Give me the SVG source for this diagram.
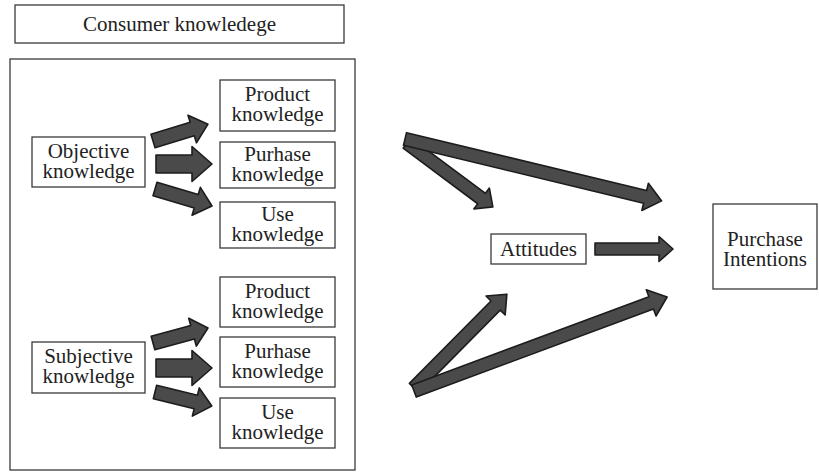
<svg xmlns="http://www.w3.org/2000/svg" width="819" height="474" viewBox="0 0 819 474">
<style>
.box{fill:#fff;stroke:#3a3a3a;stroke-width:1.3}
.t{font-family:"Liberation Serif","Times New Roman",serif;font-size:21px;fill:#222;text-anchor:middle}
.ar{fill:#4a4a4a;stroke:#1c1c1c;stroke-width:1.6;stroke-linejoin:round}
</style>
<rect width="819" height="474" fill="#fff"/>
<g id="consumer"><rect class="box" x="15" y="5" width="329" height="38"/><text class="t" x="179.5" y="31">Consumer knowledege</text></g>
<g id="container"><rect class="box" x="10" y="59" width="345" height="411"/></g>
<g id="objective"><rect class="box" x="32" y="137" width="113" height="50"/><text class="t" x="88.5" y="157.5">Objective</text><text class="t" x="88.5" y="177.5">knowledge</text></g>
<g id="product1"><rect class="box" x="220" y="80" width="115" height="51"/><text class="t" x="277.5" y="101">Product</text><text class="t" x="277.5" y="121">knowledge</text></g>
<g id="purhase1"><rect class="box" x="220" y="142" width="115" height="46"/><text class="t" x="277.5" y="160.5">Purhase</text><text class="t" x="277.5" y="180.5">knowledge</text></g>
<g id="use1"><rect class="box" x="220" y="202" width="115" height="46"/><text class="t" x="277.5" y="220.5">Use</text><text class="t" x="277.5" y="240.5">knowledge</text></g>
<g id="subjective"><rect class="box" x="32" y="342" width="113" height="51"/><text class="t" x="88.5" y="363">Subjective</text><text class="t" x="88.5" y="383">knowledge</text></g>
<g id="product2"><rect class="box" x="220" y="277" width="115" height="50"/><text class="t" x="277.5" y="297.5">Product</text><text class="t" x="277.5" y="317.5">knowledge</text></g>
<g id="purhase2"><rect class="box" x="220" y="337" width="115" height="50"/><text class="t" x="277.5" y="357.5">Purhase</text><text class="t" x="277.5" y="377.5">knowledge</text></g>
<g id="use2"><rect class="box" x="220" y="398" width="115" height="50"/><text class="t" x="277.5" y="418.5">Use</text><text class="t" x="277.5" y="438.5">knowledge</text></g>
<g id="attitudes"><rect class="box" x="491" y="234" width="95" height="30"/><text class="t" x="538.5" y="256">Attitudes</text></g>
<g id="intentions"><rect class="box" x="713" y="204" width="104" height="85"/><text class="t" x="765" y="246">Purchase</text><text class="t" x="765" y="266">Intentions</text></g>
<g id="connectors">
<polygon class="ar" transform="translate(153,141) rotate(-17)" points="0,-7 41,-7 41,-14.5 57.5,0 41,14.5 41,7 0,7"/>
<polygon class="ar" transform="translate(156,164)" points="0,-9 36,-9 36,-17.5 56,0 36,17.5 36,9 0,9"/>
<polygon class="ar" transform="translate(155,189) rotate(16.6)" points="0,-7 43,-7 43,-14.5 59.5,0 43,14.5 43,7 0,7"/>
<polygon class="ar" transform="translate(153,343) rotate(-15.3)" points="0,-7 41,-7 41,-14.5 57,0 41,14.5 41,7 0,7"/>
<polygon class="ar" transform="translate(156,368)" points="0,-9 36,-9 36,-17.5 56,0 36,17.5 36,9 0,9"/>
<polygon class="ar" transform="translate(155,392) rotate(13.8)" points="0,-7 42,-7 42,-14.5 58.5,0 42,14.5 42,7 0,7"/>
<polygon class="ar" transform="translate(407,143) rotate(36.66)" points="0,-6.5 93,-6.5 93,-13 107,0 93,13 93,6.5 0,6.5"/>
<polygon class="ar" transform="translate(405,139) rotate(13.56)" points="0,-6.5 247,-6.5 247,-14 264,0 247,14 247,6.5 0,6.5"/>
<polygon class="ar" transform="translate(414,388) rotate(-45.3)" points="0,-6.5 116,-6.5 116,-13.5 132,0 116,13.5 116,6.5 0,6.5"/>
<polygon class="ar" transform="translate(414,391) rotate(-20.38)" points="0,-6.5 253,-6.5 253,-14 270,0 253,14 253,6.5 0,6.5"/>
<polygon class="ar" transform="translate(595,249)" points="0,-6 64,-6 64,-12.5 78,0 64,12.5 64,6 0,6"/>
</g>
</svg>
